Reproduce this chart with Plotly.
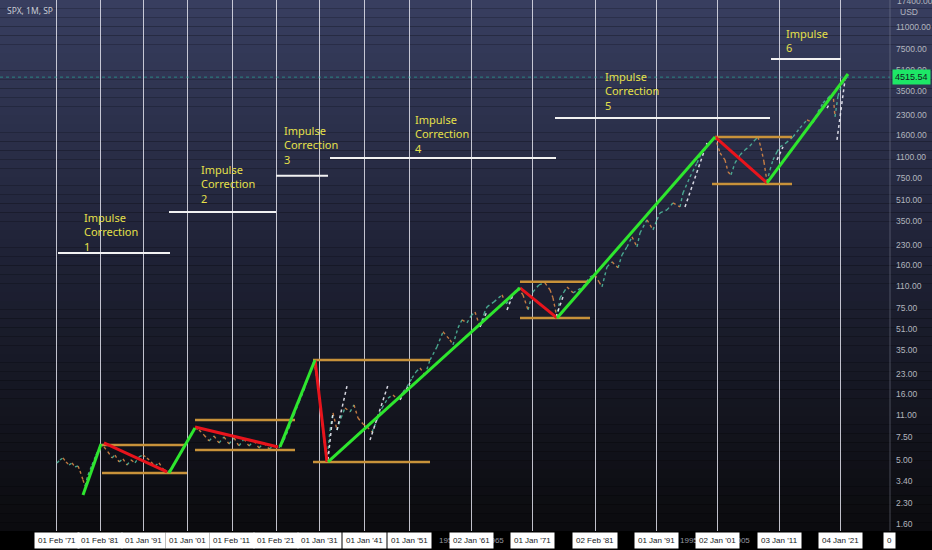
import numpy as np
import plotly.graph_objects as go

# x is the chart's bar-position axis; the decade ticks carry the vertical lines
TICK_X = [56.7, 100, 143.5, 187.5, 232, 276, 319.5, 364, 409.5, 471.3,
          532.8, 595, 656.3, 717.5, 779, 840.7]
TICK_TEXT = ["01 Feb '71", "01 Feb '81", "01 Jan '91", "01 Jan '01", "01 Feb '11",
             "01 Feb '21", "01 Jan '31", "01 Jan '41", "01 Jan '51", "02 Jan '61",
             "01 Jan '71", "02 Feb '81", "01 Jan '91", "02 Jan '01", "03 Jan '11",
             "04 Jan '21"]
HIDDEN_X = [448, 495, 689, 741]
HIDDEN_TEXT = ["1955", "1965", "1995", "2005"]

PRICE_TICKS = [1.6, 2.3, 3.4, 5, 7.5, 11, 16, 23, 35, 51, 75, 110, 160, 230, 350,
               510, 750, 1100, 1600, 2300, 3500, 5100, 7500, 11000]
TOP_TICK = 17400
LAST_PRICE = 4515.54

# monthly SPX path (approximate)
PRICE_X = [57, 60, 63, 66, 69, 72, 75, 78, 80, 83, 85, 88, 92, 96, 101,
           104, 108, 112, 115, 119, 123, 127, 131, 135, 139, 143, 147, 151, 155, 159, 163, 168,
           172, 176, 180, 184, 188, 192, 195,
           199, 204, 209, 214, 219, 224, 229, 234, 239, 244, 249, 254, 259, 264, 269, 274, 279,
           284, 289, 294, 299, 304, 309, 314,
           318, 321, 324, 327,
           330, 333, 337, 341, 345, 350, 354, 358, 363, 367, 372, 377, 382, 388, 393, 398, 403,
           407, 412, 416, 420, 425, 430, 437, 443, 450, 453, 458, 462, 467, 471, 475, 480, 484,
           487, 494, 502, 506, 510, 514, 518,
           523, 528, 533, 539, 545, 550, 553, 557,
           560, 564, 567, 573, 578, 583, 590, 595, 599, 602, 607, 612, 618, 622, 627, 632, 637,
           640, 647, 653, 657, 660, 667, 673, 680, 683, 690, 697, 703, 710, 715,
           720, 725, 728, 731, 735, 740, 745, 750, 755, 758, 761, 764, 767,
           770, 773, 777, 780, 786, 793, 800, 807, 813, 818, 823, 828, 833, 835, 838, 842, 847]
PRICE = [4.73, 4.99, 5.17, 4.82, 4.56, 4.73, 4.41, 4.48, 4.10, 3.50, 3.14, 3.82, 4.56, 5.45, 6.63,
         6.29, 5.75, 5.17, 5.45, 4.82, 5.08, 4.56, 4.99, 4.73, 5.26, 5.45, 5.17, 4.82, 4.48, 4.73, 4.25, 4.03,
         4.33, 4.90, 5.55, 6.29, 7.12, 8.07, 8.81,
         8.50, 7.78, 7.00, 7.64, 6.75, 7.51, 6.63, 7.38, 6.40, 7.25, 6.40, 7.00, 6.18, 6.75, 6.07, 6.40, 6.18,
         7.12, 8.81, 11.11, 14.0, 17.3, 22.6, 29.0,
         18.9, 11.72, 7.12, 4.90,
         8.50, 11.51, 8.50, 10.53, 12.58, 11.72, 13.27, 10.53, 9.46, 8.97, 8.21, 10.16, 12.58, 15.0, 15.85, 14.5, 16.7,
         18.3, 21.4, 23.9, 25.6, 22.6, 29.5, 37.3, 48.7, 42.2, 38.6, 52.3, 60.3, 57.1, 64.7, 69.4, 53.2, 67.0,
         75.9, 83.0, 94.0, 80.1, 86.0, 97.4, 106.4,
         94.0, 71.9, 99.1, 112.2, 116.3, 102.7, 89.1, 62.4,
         89.1, 99.1, 108.3, 97.4, 102.7, 108.3, 129.4, 134.1, 118.4, 108.3, 154.6, 169.0, 151.9, 191.4, 220.6, 263.6, 220.6,
         283, 357, 298.5, 357, 404, 426, 482, 449, 576, 766, 982, 1238, 1427, 1560,
         1173, 1036, 837, 794, 982, 1133, 1238, 1329, 1479, 1560, 1283, 1000, 701,
         868, 1036, 1195, 1306, 1402, 1560, 1830, 2110, 2001, 2433, 2854, 3121, 3411, 2226, 3233, 4002, 4515.54]

# white dotted trend stubs under the rallies: (x0, p0, x1, p1)
DOTS = [(328, 5.0, 333, 11.5), (337, 8.5, 347, 18.6), (370, 7.1, 388, 18.9),
        (400, 14.5, 410, 19.6), (480, 53.2, 487, 70.0), (507, 71.9, 513, 94.0),
        (556, 63.6, 563, 90.7), (685, 449, 707, 1402), (777, 1036, 783, 1306),
        (827, 2600, 830, 2854), (837, 1480, 845, 4300)]

# impulse legs (green) and correction legs (red): (x0, p0, x1, p1)
IMPULSES = [(83, 2.68, 101, 6.63), (169, 3.96, 195, 8.81), (280, 6.29, 315, 29.5),
            (328, 4.82, 520, 106.4), (557, 62.4, 715, 1560), (767, 688, 848, 4773)]
CORRECTIONS = [(104, 6.75, 167, 4.03), (195, 8.97, 278, 6.29), (315, 29.5, 327, 4.82),
               (520, 106.4, 557, 62.4), (715, 1560, 767, 688)]

# range boxes around each correction: (x0, x1, price)
RANGE_LINES = [(102, 185, 6.51), (102, 187, 3.96), (195, 295, 10.16), (195, 295, 5.96),
               (313, 430, 29.5), (313, 430, 4.82), (520, 590, 118.4), (520, 590, 62.4),
               (715, 792, 1560), (712, 792, 676)]

# cycle captions with their white underline
CAPTION_X = [82, 199, 282, 413, 603, 784]
CAPTION_TOP = [440, 1035, 2070, 2520, 5400, 11600]
CAPTION_TEXT = ["Impulse<br>Correction<br>1", "Impulse<br>Correction<br>2",
                "Impulse<br>Correction<br>3", "Impulse<br>Correction<br>4",
                "Impulse<br>Correction<br>5", "Impulse<br>6"]
UNDERLINES = [(58, 170, 198.3), (169, 276, 411), (276, 328, 780), (330, 556, 1074),
              (555, 770, 2187), (771, 841, 6232)]


def segments(legs):
    xs, ys = [], []
    for x0, p0, x1, p1 in legs:
        xs += [x0, x1, None]
        ys += [p0, p1, None]
    return xs, ys


def flat_segments(lines):
    xs, ys = [], []
    for x0, x1, p in lines:
        xs += [x0, x1, None]
        ys += [p, p, None]
    return xs, ys


fig = go.Figure()

# price: teal for up months, orange for down months
up_x, up_y, dn_x, dn_y = [], [], [], []
for i in range(1, len(PRICE)):
    tx, ty = (up_x, up_y) if PRICE[i] >= PRICE[i - 1] else (dn_x, dn_y)
    tx += [PRICE_X[i - 1], PRICE_X[i], None]
    ty += [PRICE[i - 1], PRICE[i], None]
fig.add_trace(go.Scatter(x=up_x, y=up_y, mode="lines",
                         line=dict(color="rgba(80,190,160,0.85)", width=1.4, dash="dot")))
fig.add_trace(go.Scatter(x=dn_x, y=dn_y, mode="lines",
                         line=dict(color="rgba(225,140,70,0.85)", width=1.4, dash="dot")))

dx, dy = segments(DOTS)
fig.add_trace(go.Scatter(x=dx, y=dy, mode="lines",
                         line=dict(color="rgba(235,235,245,0.9)", width=1.5, dash="dot")))

ox, oy = flat_segments(RANGE_LINES)
fig.add_trace(go.Scatter(x=ox, y=oy, mode="lines", line=dict(color="#c8923a", width=2.5)))

ux, uy = flat_segments(UNDERLINES)
fig.add_trace(go.Scatter(x=ux, y=uy, mode="lines", line=dict(color="#f2f2f2", width=2)))

rx, ry = segments(CORRECTIONS)
fig.add_trace(go.Scatter(x=rx, y=ry, mode="lines", line=dict(color="#e8141c", width=3)))

gx, gy = segments(IMPULSES)
fig.add_trace(go.Scatter(x=gx, y=gy, mode="lines", line=dict(color="#2ee62e", width=3)))

# background gradient bands
shapes = []
n_bands = 60
stops = np.array([[56, 62, 96], [30, 33, 52], [11, 11, 14]], dtype=float)
for i in range(n_bands):
    t = (i + 0.5) / n_bands
    if t < 0.5:
        c = stops[0] + (stops[1] - stops[0]) * (t / 0.5)
    else:
        c = stops[1] + (stops[2] - stops[1]) * ((t - 0.5) / 0.5)
    shapes.append(dict(type="rect", xref="paper", yref="paper", layer="below",
                       x0=0, x1=932 / 890, y0=1 - (i + 1) / n_bands, y1=1 - i / n_bands,
                       line=dict(width=0),
                       fillcolor="rgb(%d,%d,%d)" % tuple(c.round())))
shapes.append(dict(type="line", xref="paper", yref="paper", x0=1, x1=1, y0=0, y1=1,
                   line=dict(color="rgba(140,145,160,0.45)", width=1)))
shapes.append(dict(type="line", xref="paper", yref="y", x0=0, x1=1,
                   y0=LAST_PRICE, y1=LAST_PRICE,
                   line=dict(color="rgba(40,170,150,0.7)", width=1, dash="dot")))

annotations = []
for x, t in zip(HIDDEN_X, HIDDEN_TEXT):
    annotations.append(dict(x=x, y=0, xref="x", yref="paper", yanchor="top", yshift=-3,
                            text=t, showarrow=False,
                            font=dict(family="Liberation Sans", size=8, color="#9598a1")))
for x, t in zip(TICK_X, TICK_TEXT):
    annotations.append(dict(x=x, y=0, xref="x", yref="paper", yanchor="top", yshift=-1,
                            text=t, showarrow=False, bgcolor="#ffffff", borderpad=3,
                            font=dict(family="Liberation Sans", size=8, color="#131722")))
annotations.append(dict(x=883, y=0, xref="x", yref="paper", xanchor="left", yanchor="top",
                        yshift=-1, text="0", showarrow=False, bgcolor="#ffffff", borderpad=3,
                        font=dict(family="Liberation Sans", size=8, color="#131722")))
for x, p, t in zip(CAPTION_X, CAPTION_TOP, CAPTION_TEXT):
    annotations.append(dict(x=x, y=np.log10(p), xref="x", yref="y", xanchor="left",
                            yanchor="top", text=t, showarrow=False, align="left",
                            font=dict(family="Noto Sans", size=11, color="#e6e04a")))
annotations.append(dict(x=5 / 890, y=1 - 11 / 531, xref="paper", yref="paper",
                        xanchor="left", yanchor="middle", text="SPX, 1M, SP", showarrow=False,
                        font=dict(family="Noto Sans", size=8.5, color="#c8cad3")))
# top tick sits on the edge and is clipped, as on the source
annotations.append(dict(x=1 + 5 / 890, y=np.log10(TOP_TICK), xref="paper", yref="y",
                        xanchor="left", yanchor="middle", text="%.2f" % TOP_TICK,
                        showarrow=False,
                        font=dict(family="Liberation Sans", size=8.5, color="#b2b5be")))
annotations.append(dict(x=1 + 19 / 890, y=1 - 12 / 531, xref="paper", yref="paper",
                        xanchor="center", yanchor="middle", text="USD", showarrow=False,
                        font=dict(family="Liberation Sans", size=8.5, color="#b2b5be")))
annotations.append(dict(x=1 + 2 / 890, y=np.log10(LAST_PRICE), xref="paper", yref="y",
                        xanchor="left", yanchor="middle", text="%.2f" % LAST_PRICE,
                        showarrow=False, bgcolor="#1de766", borderpad=2,
                        font=dict(family="Liberation Sans", size=9, color="#131722")))

fig.update_layout(
    width=932, height=550,
    margin=dict(l=0, r=42, t=0, b=19),
    paper_bgcolor="#000000",
    plot_bgcolor="rgba(0,0,0,0)",
    showlegend=False,
    shapes=shapes,
    annotations=annotations,
    xaxis=dict(range=[0, 890], tickvals=TICK_X, showticklabels=False, showgrid=True,
               gridcolor="rgba(225,225,235,0.85)", gridwidth=1, zeroline=False,
               showline=False, fixedrange=True),
    yaxis=dict(type="log", side="right", range=[np.log10(1.41), np.log10(17800)],
               tickvals=PRICE_TICKS, ticktext=["%.2f" % v for v in PRICE_TICKS],
               showgrid=False, zeroline=False, showline=False, ticks="",
               ticklabelstandoff=5, fixedrange=True,
               tickfont=dict(family="Liberation Sans", size=8.5, color="#b2b5be")),
)

fig.write_html("out.html", config={"displayModeBar": False},
               post_script="document.body.style.margin='0';document.body.style.overflow='hidden';")
